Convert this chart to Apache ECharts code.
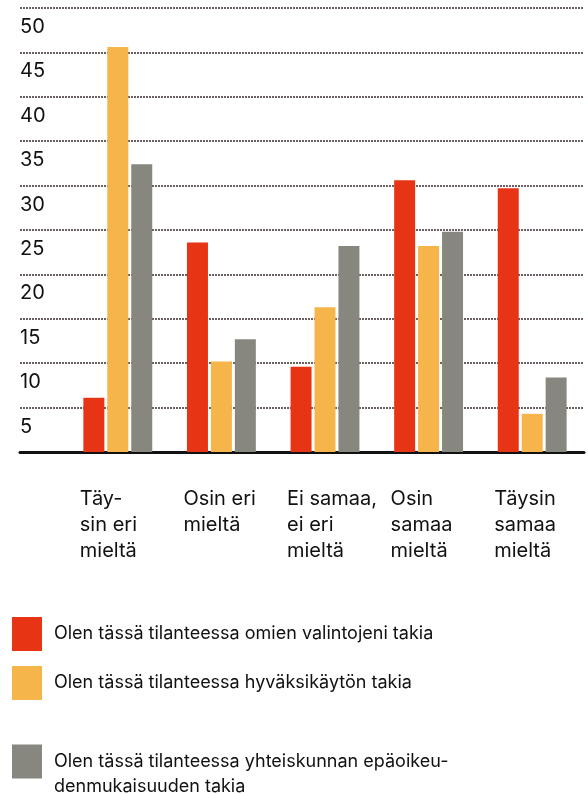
<!DOCTYPE html>
<html>
<head>
<meta charset="utf-8">
<script src="https://cdn.jsdelivr.net/npm/echarts@6/dist/echarts.min.js"></script>
<style>
  html, body { margin: 0; padding: 0; background: #fff; }
  #chart { width: 588px; height: 794px; }
</style>
</head>
<body>
<div id="chart"></div>
<script>
  // categories and values
  var categories = ['Täy-\nsin eri\nmieltä', 'Osin eri\nmieltä', 'Ei samaa,\nei eri\nmieltä', 'Osin\nsamaa\nmieltä', 'Täysin\nsamaa\nmieltä'];
  var seriesNames = [
    'Olen tässä tilanteessa omien valintojeni takia',
    'Olen tässä tilanteessa hyväksikäytön takia',
    'Olen tässä tilanteessa yhteiskunnan epäoikeu-\ndenmukaisuuden takia'
  ];
  var omat = [6.1, 23.6, 9.6, 30.6, 29.7];
  var hyvaksikaytto = [45.6, 10.2, 16.3, 23.2, 4.3];
  var yhteiskunta = [32.4, 12.7, 23.2, 24.8, 8.4];
  var yMin = 0, yMax = 50, yStep = 5;

  var colors = ['#E63415', '#F6B54B', '#88877F'];
  var font = 'Inter, "Noto Sans", sans-serif';

  var chart = echarts.init(document.getElementById('chart'));

  function legendAt(i, top) {
    return {
      data: [seriesNames[i]],
      left: 12,
      top: top,
      padding: 0,
      orient: 'vertical',
      icon: 'rect',
      itemWidth: 30,
      itemHeight: 34,
      itemGap: 0,
      selectedMode: false,
      // the long name wraps; an empty first line keeps its first row level with the square
      formatter: i === 2 ? function (name) { return ' \n' + name; } : '{name}',
      textStyle: { fontFamily: font, fontSize: 18, color: '#111', lineHeight: 25, padding: [0, 0, 0, 7] }
    };
  }

  var option = {
    animation: false,
    color: colors,
    legend: [legendAt(0, 617), legendAt(1, 666), legendAt(2, 724)],
    grid: [
      { left: 66, right: 4, top: 8, bottom: 342 },
      { left: 20, right: 4, top: 8, bottom: 342 }
    ],
    xAxis: [
      {
        gridIndex: 0,
        type: 'category',
        data: categories,
        axisLine: { show: false },
        axisTick: { show: false },
        axisLabel: {
          interval: 0,
          fontFamily: font, fontSize: 20, color: '#111', lineHeight: 26,
          align: 'left', verticalAlign: 'top', margin: 34,
          padding: [0, 0, 0, -38]
        }
      },
      {
        gridIndex: 1,
        type: 'value',
        min: 0, max: 1,
        axisLine: { show: true, onZero: false, lineStyle: { color: '#111', width: 3 } },
        axisTick: { show: false },
        axisLabel: { show: false },
        splitLine: { show: false }
      }
    ],
    yAxis: [
      {
        gridIndex: 0,
        type: 'value',
        min: yMin, max: yMax, interval: yStep,
        axisLine: { show: false },
        axisTick: { show: false },
        axisLabel: { show: false },
        splitLine: { show: false }
      },
      {
        gridIndex: 1,
        type: 'value',
        min: yMin, max: yMax, interval: yStep,
        axisLine: { show: false },
        axisTick: { show: false },
        axisLabel: {
          inside: true, margin: 0, align: 'left', verticalAlign: 'top',
          padding: [9, 0, 0, 0], showMinLabel: false,
          fontFamily: font, fontSize: 20, color: '#111'
        },
        splitLine: { show: true, lineStyle: { color: '#3a2a2a', type: [2, 1], width: 1.5 } }
      }
    ],
    series: [
      { name: seriesNames[0], type: 'bar', data: omat, barWidth: 21, barGap: '14%', xAxisIndex: 0, yAxisIndex: 0 },
      { name: seriesNames[1], type: 'bar', data: hyvaksikaytto, barWidth: 21, barGap: '14%', xAxisIndex: 0, yAxisIndex: 0 },
      { name: seriesNames[2], type: 'bar', data: yhteiskunta, barWidth: 21, barGap: '14%', xAxisIndex: 0, yAxisIndex: 0 }
    ]
  };

  chart.setOption(option);
</script>
</body>
</html>
